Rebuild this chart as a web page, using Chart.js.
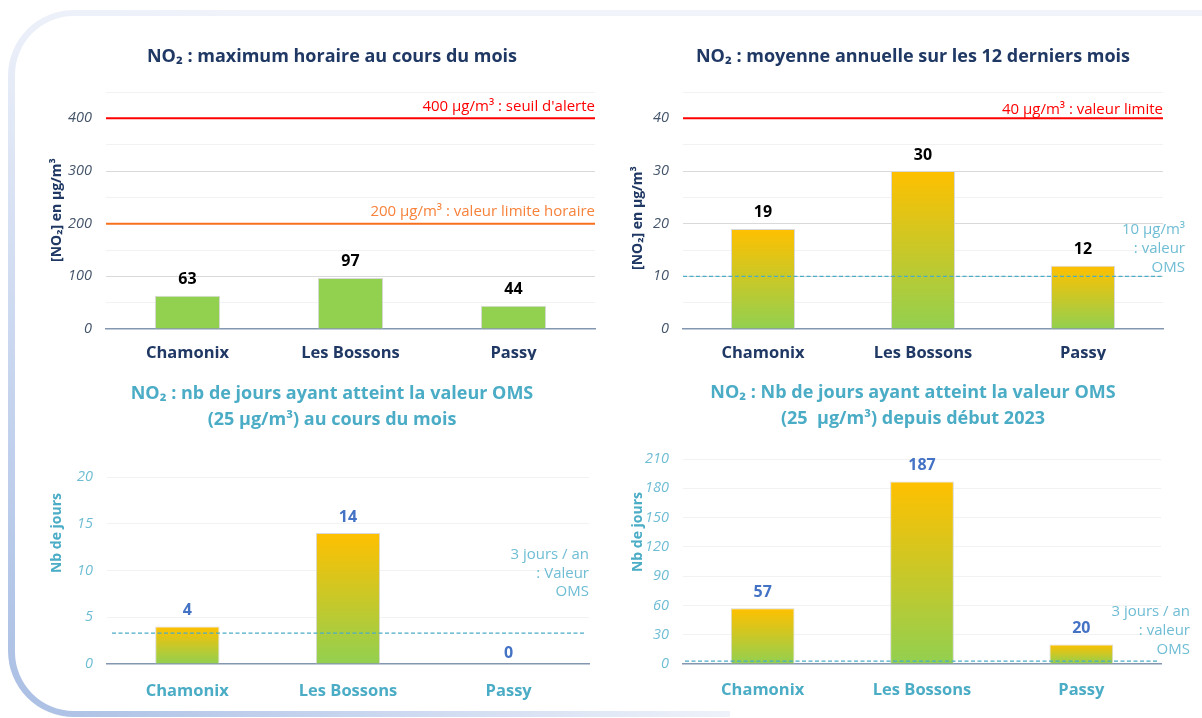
<!DOCTYPE html>
<html><head><meta charset="utf-8">
<script src="https://cdn.jsdelivr.net/npm/chart.js@4.4.1/dist/chart.umd.min.js"></script>
<style>
html,body{margin:0;padding:0;width:1202px;height:718px;overflow:hidden;background:#fff;}
#frame{position:absolute;left:8px;top:10px;width:1260px;height:707px;border-radius:66px 0 0 66px;background:radial-gradient(circle at 0% 100%, #AABFE4 0px, #C6D4EE 330px, #F0F3FA 740px);}
#inner{position:absolute;left:15px;top:16px;width:1260px;height:695px;border-radius:59px 0 0 59px;background:#fff;}
#cover{position:absolute;left:730px;top:700px;width:480px;height:18px;background:#fff;}
canvas{position:absolute;}
</style></head>
<body>
<div id="frame"></div><div id="inner"></div><div id="cover"></div>
<canvas id="c1" width="584" height="360" style="left:40px;top:0px"></canvas>
<canvas id="c2" width="578" height="360" style="left:624px;top:0px"></canvas>
<canvas id="c3" width="584" height="358" style="left:40px;top:360px"></canvas>
<canvas id="c4" width="578" height="358" style="left:624px;top:360px"></canvas>
<script>
// ---- data ----
const categories = ['Chamonix', 'Les Bossons', 'Passy'];
const maxHoraire = [63, 97, 44];
const moyenneAnnuelle = [19, 30, 12];
const joursMois = [4, 14, 0];
const joursDepuis2023 = [57, 187, 20];
const seuilsHoraire = [400, 200];
const seuilsAnnuels = [40, 10];
const seuilOmsMois = [3.3];
const seuilOmsAnnee = [3];
const titles = [
  'NO₂ : maximum horaire au cours du mois',
  'NO₂ : moyenne annuelle sur les 12 derniers mois',
  ['NO₂ : nb de jours ayant atteint la valeur OMS', '(25 µg/m³) au cours du mois'],
  ['NO₂ : Nb de jours ayant atteint la valeur OMS', '(25  µg/m³) depuis début 2023']
];
const yTitles = ['[NO₂] en µg/m³', '[NO₂] en µg/m³', 'Nb de jours', 'Nb de jours'];

// ---- styles ----
const FONT = "'Open Sans', 'Noto Sans', 'DejaVu Sans', sans-serif";
Chart.defaults.font.family = FONT;
const NAVY = '#1F3864';
const TEAL = '#4BACC6';
const TEAL_LIGHT = '#6FBDD4';
const GREEN = '#92D050';
const YELLOW = '#FFC000';

function barGradient(c) {
  const chart = c.chart;
  const area = chart.chartArea;
  if (!area || c.type !== 'data') return GREEN;
  const y = chart.scales.y;
  const top = y.getPixelForValue(c.raw);
  const base = y.getPixelForValue(0);
  if (!(base - top > 0.5)) return GREEN;
  const g = chart.ctx.createLinearGradient(0, top, 0, base);
  g.addColorStop(0, YELLOW);
  g.addColorStop(1, GREEN);
  return g;
}

const refLinePlugin = {
  id: 'refLines',
  afterDatasetsDraw(chart, args, opts) {
    const {ctx, chartArea} = chart;
    const y = chart.scales.y;
    (opts.lines || []).forEach(l => {
      const py = y.getPixelForValue(l.value);
      ctx.save();
      ctx.strokeStyle = l.color; ctx.lineWidth = l.width;
      ctx.setLineDash(l.dash || []);
      ctx.beginPath();
      ctx.moveTo(chartArea.left + (l.x0 || 0), py);
      ctx.lineTo(chartArea.right + (l.x1 || 0), py);
      ctx.stroke();
      ctx.setLineDash([]);
      ctx.fillStyle = l.labelColor; ctx.font = l.font;
      ctx.textAlign = 'right'; ctx.textBaseline = 'middle';
      l.label.forEach((t, i) => ctx.fillText(t, chartArea.right + l.dx, py + l.dy + i * l.lh));
      ctx.restore();
    });
  }
};

const valueLabelPlugin = {
  id: 'valueLabels',
  afterDatasetsDraw(chart, args, opts) {
    const {ctx} = chart;
    const meta = chart.getDatasetMeta(0);
    const data = chart.data.datasets[0].data;
    ctx.save();
    ctx.font = opts.font; ctx.fillStyle = opts.color;
    ctx.textAlign = 'center'; ctx.textBaseline = 'middle';
    meta.data.forEach((el, i) => ctx.fillText(String(data[i]), el.x, el.y - (data[i] === 0 ? opts.zeroOffset : opts.offset)));
    ctx.restore();
  }
};

const yTitlePlugin = {
  id: 'yTitle',
  afterDraw(chart, args, opts) {
    const {ctx} = chart;
    ctx.save();
    ctx.translate(opts.x, opts.y);
    ctx.rotate(-Math.PI / 2);
    ctx.font = opts.font; ctx.fillStyle = opts.color;
    ctx.textAlign = 'center'; ctx.textBaseline = 'middle';
    ctx.fillText(opts.text, 0, 0);
    ctx.restore();
  }
};

function build(id, o) {
  return new Chart(document.getElementById(id), {
    type: 'bar',
    data: {
      labels: categories,
      datasets: [{
        data: o.values,
        backgroundColor: o.gradient ? barGradient : GREEN,
        borderColor: '#D9D9D9', borderWidth: 1,
        barPercentage: 0.4, categoryPercentage: 1
      }]
    },
    options: {
      responsive: false, animation: false, devicePixelRatio: 1,
      layout: {padding: 0},
      plugins: {
        legend: {display: false}, tooltip: {enabled: false},
        title: {display: true, text: o.title, color: o.titleColor,
          font: {size: 18, weight: 'bold', lineHeight: o.titleLH},
          padding: o.titlePad},
        valueLabels: {font: "bold 16px " + FONT, color: o.valueColor, offset: 16, zeroOffset: 11},
        refLines: {lines: o.lines},
        yTitle: {text: o.yTitle, x: o.yTitleX, y: o.yTitleY, color: o.titleColor, font: "bold 14px " + FONT}
      },
      scales: {
        x: {
          grid: {display: false, drawTicks: false},
          border: {display: true, color: '#8497B0', width: 1.5},
          ticks: {color: o.catColor, font: {size: 16.5, weight: 'bold', lineHeight: 1.2}, padding: o.xPad},
          afterFit: s => { s.height = o.xHeight; }
        },
        y: {
          min: 0, max: o.max,
          ticks: {stepSize: o.step, color: o.tickColor, font: {size: 14.5, style: 'italic'}, padding: 14,
            callback: v => (v % o.labelEvery === 0 ? v : '')},
          grid: {drawTicks: false,
            color: c => c.tick.value === 0 ? 'rgba(0,0,0,0)' : (c.tick.value % o.labelEvery === 0 ? o.gridMajor : '#F2F2F2')},
          border: {display: false},
          afterFit: s => { s.width = o.yWidth; }
        },
        // empty right-hand margin axis (keeps the title centred on the whole panel)
        yMargin: {
          position: 'right', display: true,
          grid: {display: false, drawTicks: false}, border: {display: false},
          ticks: {display: false},
          afterFit: s => { s.width = o.padRight; }
        }
      }
    },
    plugins: [refLinePlugin, valueLabelPlugin, yTitlePlugin]
  });
}

const LBL = "15px " + FONT;

build('c1', {
  values: maxHoraire, gradient: false, padRight: 29, yWidth: 66, xHeight: 31, xPad: 14,
  title: titles[0], titleColor: NAVY, titleLH: 1.2, titlePad: {top: 46.2, bottom: 24.2},
  valueColor: '#000', catColor: NAVY, tickColor: '#44546A', gridMajor: '#D9D9D9',
  max: 450, step: 50, labelEvery: 100,
  yTitle: yTitles[0], yTitleX: 17, yTitleY: 210,
  lines: [
    {value: seuilsHoraire[0], color: '#FF0000', width: 2, label: [seuilsHoraire[0] + ' µg/m³ : seuil d\'alerte'], labelColor: '#FF0000', font: LBL, dx: 0, dy: -12, lh: 19},
    {value: seuilsHoraire[1], color: '#F7701E', width: 2, label: [seuilsHoraire[1] + ' µg/m³ : valeur limite horaire'], labelColor: '#F7823A', font: LBL, dx: 0, dy: -12, lh: 19}
  ]
});

build('c2', {
  values: moyenneAnnuelle, gradient: true, padRight: 39, yWidth: 59, xHeight: 31, xPad: 14,
  title: titles[1], titleColor: NAVY, titleLH: 1.2, titlePad: {top: 46.2, bottom: 24.2},
  valueColor: '#000', catColor: NAVY, tickColor: '#44546A', gridMajor: '#D9D9D9',
  max: 45, step: 5, labelEvery: 10,
  yTitle: yTitles[1], yTitleX: 14, yTitleY: 218,
  lines: [
    {value: seuilsAnnuels[0], color: '#FF0000', width: 2, label: [seuilsAnnuels[0] + ' µg/m³ : valeur limite'], labelColor: '#FF0000', font: LBL, dx: 0, dy: -9, lh: 19},
    {value: seuilsAnnuels[1], color: TEAL, width: 1.2, dash: [4, 2.5], label: [seuilsAnnuels[1] + ' µg/m³', ': valeur', 'OMS'], labelColor: TEAL_LIGHT, font: LBL, dx: 22, dy: -47, lh: 19}
  ]
});

build('c3', {
  values: joursMois, gradient: true, padRight: 35, yWidth: 67, xHeight: 54, xPad: 17,
  title: titles[2], titleColor: TEAL, titleLH: 26 / 18, titlePad: {top: 21, bottom: 44},
  valueColor: '#4472C4', catColor: TEAL, tickColor: TEAL_LIGHT, gridMajor: '#F2F2F2',
  max: 20, step: 5, labelEvery: 5,
  yTitle: yTitles[2], yTitleX: 17, yTitleY: 173,
  lines: [
    {value: seuilOmsMois[0], color: TEAL, width: 1.2, dash: [4, 2.5], x0: 5, x1: -5, label: ['3 jours / an', ': Valeur', 'OMS'], labelColor: TEAL_LIGHT, font: LBL, dx: 0, dy: -78, lh: 18.5}
  ]
});

build('c4', {
  values: joursDepuis2023, gradient: true, padRight: 41, yWidth: 59, xHeight: 54, xPad: 16,
  title: titles[3], titleColor: TEAL, titleLH: 26 / 18, titlePad: {top: 20, bottom: 27},
  valueColor: '#4472C4', catColor: TEAL, tickColor: TEAL_LIGHT, gridMajor: '#F2F2F2',
  max: 210, step: 30, labelEvery: 30,
  yTitle: yTitles[3], yTitleX: 14, yTitleY: 172,
  lines: [
    {value: seuilOmsAnnee[0], color: TEAL, width: 1.2, dash: [4, 2.5], x0: 2, x1: -3, label: ['3 jours / an', ': valeur', 'OMS'], labelColor: TEAL_LIGHT, font: LBL, dx: 29, dy: -49, lh: 19}
  ]
});
</script>
</body></html>
